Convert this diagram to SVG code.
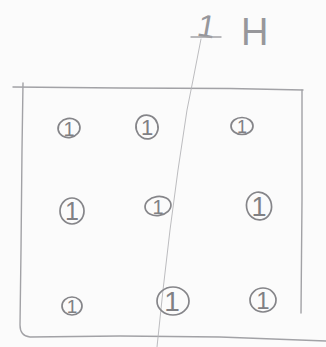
<svg xmlns="http://www.w3.org/2000/svg" width="326" height="347" viewBox="0 0 326 347">
  <defs>
    <style>
      .paper { fill: #fbfbfb; }
      .frame { fill: none; stroke: #a2a2a6; stroke-width: 1.4; stroke-linecap: round; stroke-linejoin: round; }
      .ring { fill: none; stroke: #858589; stroke-width: 1.7; }
      .one { font-family: "Liberation Sans", Arial, sans-serif; fill: #808084; text-anchor: middle; }
      .label { font-family: "Liberation Sans", Arial, sans-serif; fill: #97979b; }
      .conn { fill: none; stroke: #b4b4b8; stroke-width: 0.9; stroke-linecap: round; }
    </style>
  </defs>
  <rect class="paper" x="0" y="0" width="326" height="347"/>

  <g id="frame">
    <path class="frame" d="M13 87 L120 88 L230 88.5 L303 90"/>
    <path class="frame" d="M23 83 L22 150 L21 250 L20 325 Q20 336 30 337 L120 336 L220 337 L326 341"/>
    <path class="frame" d="M302 90 L302 200 L301 313"/>
  </g>

  <g id="connectors">
    <path class="conn" d="M201 39 L193 80 L187 110 L178 170 L170 230 L163 290 L157 347"/>
  </g>

  <g id="label-top">
    <text class="label" x="198" y="37" font-size="32" transform="rotate(10 205 25)">1</text>
    <path class="frame" d="M191 37 L221 37"/>
    <text class="label" x="241" y="45" font-size="38" font-weight="300">H</text>
  </g>

  <g id="n1">
    <ellipse class="ring" cx="69" cy="128" rx="11" ry="9.5" transform="rotate(-10 69 128)"/>
    <text class="one" x="69" y="135.5" font-size="20">1</text>
  </g>
  <g id="n2">
    <ellipse class="ring" cx="147" cy="127" rx="11" ry="12" transform="rotate(-15 147 127)"/>
    <text class="one" x="147" y="135" font-size="22">1</text>
  </g>
  <g id="n3">
    <ellipse class="ring" cx="242" cy="126" rx="11" ry="8.5"/>
    <text class="one" x="242" y="132.5" font-size="18">1</text>
  </g>
  <g id="n4">
    <ellipse class="ring" cx="72" cy="211" rx="12" ry="13"/>
    <text class="one" x="72" y="220" font-size="25">1</text>
  </g>
  <g id="n5">
    <ellipse class="ring" cx="158" cy="206" rx="13" ry="9.5" transform="rotate(-8 158 206)"/>
    <text class="one" x="158" y="213.5" font-size="20">1</text>
  </g>
  <g id="n6">
    <ellipse class="ring" cx="259" cy="206" rx="12.5" ry="14" transform="rotate(-10 259 206)"/>
    <text class="one" x="259" y="216" font-size="27">1</text>
  </g>
  <g id="n7">
    <ellipse class="ring" cx="72" cy="306" rx="10" ry="9"/>
    <text class="one" x="72" y="313" font-size="19">1</text>
  </g>
  <g id="n8">
    <ellipse class="ring" cx="173" cy="301" rx="16" ry="14"/>
    <text class="one" x="172" y="311" font-size="28">1</text>
  </g>
  <g id="n9">
    <ellipse class="ring" cx="263" cy="300" rx="13" ry="12"/>
    <text class="one" x="263" y="309" font-size="24">1</text>
  </g>
</svg>
